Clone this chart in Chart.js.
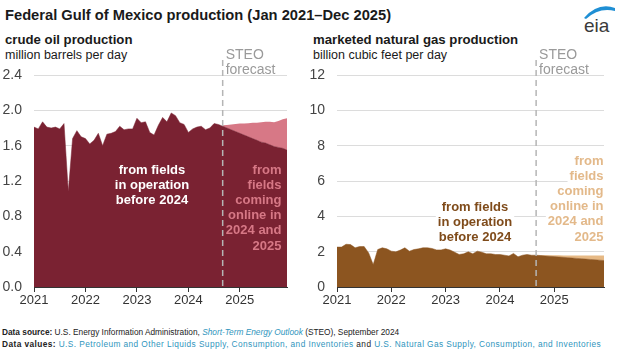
<!DOCTYPE html>
<html>
<head>
<meta charset="utf-8">
<script src="https://cdn.jsdelivr.net/npm/chart.js@4.4.1/dist/chart.umd.min.js"></script>
<style>
  body { margin: 0; width: 625px; height: 349px; background: #fff; position: relative; overflow: hidden;
         font-family: "Liberation Sans", Arial, sans-serif; }
  .t { position: absolute; white-space: nowrap; color: #1a1a1a; }
  #title { left: 5px; top: 8px; font-size: 14.7px; line-height: 15px; font-weight: bold; }
  .sub1 { top: 33px; font-size: 13.2px; line-height: 14px; font-weight: bold; }
  .sub2 { top: 48px; font-size: 12.5px; line-height: 14px; }
  .foot { left: 2px; font-size: 8.3px; line-height: 10px; color: #222; }
  .lk { color: #2f95bd; }
  canvas { position: absolute; }
</style>
</head>
<body>
<div id="title" class="t">Federal Gulf of Mexico production (Jan 2021–Dec 2025)</div>
<div class="t sub1" style="left:5px">crude oil production</div>
<div class="t sub2" style="left:5px">million barrels per day</div>
<div class="t sub1" style="left:313px">marketed natural gas production</div>
<div class="t sub2" style="left:313px">billion cubic feet per day</div>

<svg style="position:absolute;left:580px;top:0px" width="45" height="40">
  <path d="M4 18 Q 18 2 35 8 L 35 11 Q 19 7 6 19 Z" fill="#1f8fd4"/>
  <text x="4" y="32" font-family="Liberation Sans, Arial" font-size="19" fill="#3a3a3a">eia</text>
</svg>

<canvas id="oil" width="300" height="270" style="left:0px;top:40px"></canvas>
<canvas id="gas" width="325" height="270" style="left:300px;top:40px"></canvas>

<div class="t foot" style="top:327px"><b>Data source:</b> U.S. Energy Information Administration, <i class="lk">Short-Term Energy Outlook</i> (STEO), September 2024</div>
<div class="t foot" style="top:339px;letter-spacing:0.42px"><b>Data values:</b> <span class="lk">U.S. Petroleum and Other Liquids Supply, Consumption, and Inventories</span> and <span class="lk">U.S. Natural Gas Supply, Consumption, and Inventories</span></div>

<script>
// monthly, Jan 2021 .. Dec 2025 (60 months); forecast from Sep 2024
const yearTicks = ["2021", "2022", "2023", "2024", "2025"];
const forecastStart = 44;

const oilExisting = [
  1.81, 1.79, 1.87, 1.81, 1.80, 1.81, 1.79, 1.85, 1.08, 1.68, 1.77, 1.70,
  1.68, 1.62, 1.66, 1.74, 1.60, 1.73, 1.74, 1.76, 1.82, 1.78, 1.79, 1.79,
  1.91, 1.86, 1.87, 1.75, 1.72, 1.83, 1.92, 1.87, 1.97, 1.94, 1.86, 1.84,
  1.75, 1.79, 1.81, 1.82, 1.78, 1.80, 1.85, 1.84, 1.82, 1.80, 1.78, 1.76,
  1.74, 1.72, 1.70, 1.68, 1.66, 1.64, 1.63, 1.61, 1.59, 1.58, 1.57, 1.55
];
const oilNew = [
  null, null, null, null, null, null, null, null, null, null, null, null,
  null, null, null, null, null, null, null, null, null, null, null, null,
  null, null, null, null, null, null, null, null, null, null, null, null,
  null, null, null, null, null, null, null, null, 0.01, 0.035, 0.06, 0.085,
  0.11, 0.13, 0.155, 0.18, 0.20, 0.225, 0.24, 0.26, 0.275, 0.30, 0.33, 0.36
];
const gasExisting = [
  2.26, 2.26, 2.42, 2.40, 2.22, 2.29, 2.29, 1.93, 1.27, 2.12, 2.22, 2.16,
  2.03, 1.99, 2.09, 2.22, 2.03, 2.12, 2.16, 2.22, 2.22, 2.18, 2.10, 2.10,
  2.16, 2.09, 1.97, 1.84, 1.88, 1.99, 1.88, 2.03, 1.97, 1.88, 1.88, 1.84,
  1.84, 1.80, 1.76, 1.90, 1.71, 1.80, 1.84, 1.80, 1.80, 1.78, 1.76, 1.74,
  1.72, 1.70, 1.68, 1.66, 1.64, 1.62, 1.60, 1.58, 1.56, 1.54, 1.52, 1.50
];
const gasNew = [
  null, null, null, null, null, null, null, null, null, null, null, null,
  null, null, null, null, null, null, null, null, null, null, null, null,
  null, null, null, null, null, null, null, null, null, null, null, null,
  null, null, null, null, null, null, null, null, 0.01, 0.03, 0.04, 0.06,
  0.08, 0.10, 0.11, 0.13, 0.15, 0.17, 0.19, 0.20, 0.22, 0.24, 0.26, 0.28
];

const pts = (arr) => arr.map((v, i) => ({ x: i, y: v }));

function notes(cfg) {
  return {
    id: "notes",
    afterDatasetsDraw(chart) {
      const { ctx, chartArea, scales } = chart;
      const fx = scales.x.getPixelForValue(forecastStart);
      ctx.save();
      ctx.strokeStyle = "#b5b5b5";
      ctx.lineWidth = 1.5;
      ctx.setLineDash([6, 4]);
      ctx.beginPath();
      ctx.moveTo(fx, 20);
      ctx.lineTo(fx, chartArea.bottom);
      ctx.stroke();
      ctx.setLineDash([]);

      ctx.textBaseline = "middle";
      ctx.font = '14px "Liberation Sans", Arial';
      ctx.fillStyle = "#9a9a9a";
      ctx.textAlign = "left";
      ctx.fillText("STEO", fx + 3, 15);
      ctx.fillText("forecast", fx + 3, 30);

      ctx.font = 'bold 13px "Liberation Sans", Arial';
      ctx.textAlign = "center";
      cfg.left.lines.forEach((s, i) => {
        const y = cfg.left.y + i * 15.2;
        if (cfg.bg) {
          const w = ctx.measureText(s).width;
          ctx.fillStyle = "#fff";
          ctx.fillRect(cfg.left.x - w / 2 - 2, y - 7, w + 4, 14);
        }
        ctx.fillStyle = cfg.left.color;
        ctx.fillText(s, cfg.left.x, y);
      });
      ctx.textAlign = "right";
      cfg.right.lines.forEach((s, i) => {
        const y = cfg.right.y + i * 15.2;
        if (cfg.bg) {
          const w = ctx.measureText(s).width;
          ctx.fillStyle = "#fff";
          ctx.fillRect(cfg.right.x - w - 2, y - 7, w + 4, 14);
        }
        ctx.fillStyle = cfg.right.color;
        ctx.fillText(s, cfg.right.x, y);
      });
      ctx.restore();
    }
  };
}

function makeChart(id, existing, added, colors, yMax, yStep, decimals, axisW, padRight, note) {
  return new Chart(document.getElementById(id), {
    type: "line",
    data: {
      datasets: [
        { data: pts(existing), backgroundColor: colors[0], borderColor: colors[0], borderWidth: 0.5, fill: "origin" },
        { data: pts(added), backgroundColor: colors[1], borderWidth: 0, fill: "-1" }
      ]
    },
    options: {
      responsive: false,
      animation: false,
      events: [],
      layout: { padding: { top: 35, right: padRight, left: 0, bottom: 0 } },
      elements: { point: { radius: 0 }, line: { tension: 0 } },
      plugins: { legend: { display: false }, tooltip: { enabled: false } },
      scales: {
        x: {
          type: "linear", min: 0, max: 59, z: 1,
          afterBuildTicks: (s) => { s.ticks = yearTicks.map((_, i) => ({ value: i * 12 })); },
          afterFit: (s) => { s.height = 23; },
          ticks: { callback: (v) => yearTicks[v / 12], color: "#333", font: { size: 13, family: "Liberation Sans" }, padding: 1, maxRotation: 0 },
          grid: { drawOnChartArea: false, drawTicks: true, tickLength: 5, color: "#333" },
          border: { display: true, color: "#333", width: 1 }
        },
        y: {
          stacked: true, min: 0, max: yMax,
          afterFit: (s) => { s.width = axisW; },
          ticks: { stepSize: yStep, callback: (v) => v.toFixed(decimals), color: "#444", font: { size: 14, family: "Liberation Sans" }, padding: 12 },
          grid: { color: "#dcdcdc", drawTicks: false },
          border: { display: false }
        }
      }
    },
    plugins: [notes(note)]
  });
}

makeChart("oil", oilExisting, oilNew, ["#7a2232", "#d77886"], 2.4, 0.4, 1, 34, 13, {
  bg: false,
  left: { lines: ["from fields", "in operation", "before 2024"], x: 152, y: 130, color: "#fff" },
  right: { lines: ["from", "fields", "coming", "online in", "2024 and", "2025"], x: 281.5, y: 130, color: "#d77886" }
});
makeChart("gas", gasExisting, gasNew, ["#8c5520", "#e6b985"], 12, 2, 0, 37, 21, {
  bg: true,
  left: { lines: ["from fields", "in operation", "before 2024"], x: 175, y: 167, color: "#7f4b1a" },
  right: { lines: ["from", "fields", "coming", "online in", "2024 and", "2025"], x: 303.5, y: 121, color: "#e3b98a" }
});
</script>
</body>
</html>
